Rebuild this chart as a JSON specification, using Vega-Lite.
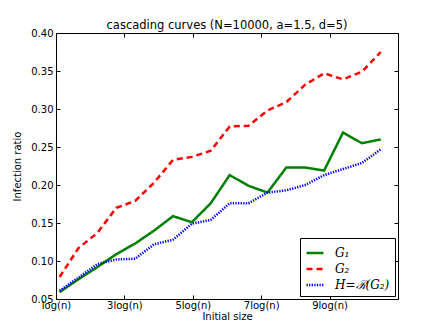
{
  "$schema": "https://vega.github.io/schema/vega-lite/v6.json",
  "width": 342,
  "height": 266,
  "autosize": "none",
  "padding": {"left": 56, "top": 33, "right": 45, "bottom": 33},
  "background": "white",
  "title": {"text": "cascading curves (N=10000, a=1.5, d=5)", "fontSize": 11.5, "fontWeight": "normal", "font": "DejaVu Sans", "offset": -3, "color": "black"},
  "data": {"values": [
    {"series": "G₁", "size": 10, "ratio": 0.059},
    {"series": "G₁", "size": 15, "ratio": 0.076},
    {"series": "G₁", "size": 20, "ratio": 0.092},
    {"series": "G₁", "size": 25, "ratio": 0.109},
    {"series": "G₁", "size": 30, "ratio": 0.123},
    {"series": "G₁", "size": 35, "ratio": 0.140},
    {"series": "G₁", "size": 40, "ratio": 0.159},
    {"series": "G₁", "size": 45, "ratio": 0.151},
    {"series": "G₁", "size": 50, "ratio": 0.176},
    {"series": "G₁", "size": 55, "ratio": 0.213},
    {"series": "G₁", "size": 60, "ratio": 0.199},
    {"series": "G₁", "size": 65, "ratio": 0.190},
    {"series": "G₁", "size": 70, "ratio": 0.223},
    {"series": "G₁", "size": 75, "ratio": 0.223},
    {"series": "G₁", "size": 80, "ratio": 0.219},
    {"series": "G₁", "size": 85, "ratio": 0.269},
    {"series": "G₁", "size": 90, "ratio": 0.255},
    {"series": "G₁", "size": 95, "ratio": 0.260},
    {"series": "G₂", "size": 10, "ratio": 0.079},
    {"series": "G₂", "size": 15, "ratio": 0.117},
    {"series": "G₂", "size": 20, "ratio": 0.137},
    {"series": "G₂", "size": 25, "ratio": 0.170},
    {"series": "G₂", "size": 30, "ratio": 0.179},
    {"series": "G₂", "size": 35, "ratio": 0.203},
    {"series": "G₂", "size": 40, "ratio": 0.233},
    {"series": "G₂", "size": 45, "ratio": 0.237},
    {"series": "G₂", "size": 50, "ratio": 0.245},
    {"series": "G₂", "size": 55, "ratio": 0.277},
    {"series": "G₂", "size": 60, "ratio": 0.278},
    {"series": "G₂", "size": 65, "ratio": 0.298},
    {"series": "G₂", "size": 70, "ratio": 0.309},
    {"series": "G₂", "size": 75, "ratio": 0.332},
    {"series": "G₂", "size": 80, "ratio": 0.347},
    {"series": "G₂", "size": 85, "ratio": 0.339},
    {"series": "G₂", "size": 90, "ratio": 0.349},
    {"series": "G₂", "size": 95, "ratio": 0.375},
    {"series": "H=ℛ(G₂)", "size": 10, "ratio": 0.061},
    {"series": "H=ℛ(G₂)", "size": 15, "ratio": 0.078},
    {"series": "H=ℛ(G₂)", "size": 20, "ratio": 0.096},
    {"series": "H=ℛ(G₂)", "size": 25, "ratio": 0.102},
    {"series": "H=ℛ(G₂)", "size": 30, "ratio": 0.103},
    {"series": "H=ℛ(G₂)", "size": 35, "ratio": 0.122},
    {"series": "H=ℛ(G₂)", "size": 40, "ratio": 0.128},
    {"series": "H=ℛ(G₂)", "size": 45, "ratio": 0.149},
    {"series": "H=ℛ(G₂)", "size": 50, "ratio": 0.154},
    {"series": "H=ℛ(G₂)", "size": 55, "ratio": 0.176},
    {"series": "H=ℛ(G₂)", "size": 60, "ratio": 0.176},
    {"series": "H=ℛ(G₂)", "size": 65, "ratio": 0.190},
    {"series": "H=ℛ(G₂)", "size": 70, "ratio": 0.193},
    {"series": "H=ℛ(G₂)", "size": 75, "ratio": 0.200},
    {"series": "H=ℛ(G₂)", "size": 80, "ratio": 0.213},
    {"series": "H=ℛ(G₂)", "size": 85, "ratio": 0.221},
    {"series": "H=ℛ(G₂)", "size": 90, "ratio": 0.229},
    {"series": "H=ℛ(G₂)", "size": 95, "ratio": 0.247}
  ]},
  "layer": [
    {
      "mark": {"type": "line", "strokeWidth": 2.5},
      "encoding": {
        "x": {"field": "size", "type": "quantitative",
              "scale": {"domain": [9.05, 99.55], "nice": false, "zero": false},
              "axis": {"values": [9.05, 27.15, 45.25, 63.35, 81.45], "title": "Initial size", "labelPadding": 5, "titlePadding": 1, "labelFlush": false,
                       "labelExpr": "datum.value < 10 ? 'log(n)' : format(round(datum.value / 9.05), 'd') + 'log(n)'"}},
        "y": {"field": "ratio", "type": "quantitative",
              "scale": {"domain": [0.05, 0.40], "nice": false, "zero": false},
              "axis": {"values": [0.05, 0.10, 0.15, 0.20, 0.25, 0.30, 0.35, 0.40], "format": ".2f", "title": "Infection ratio", "labelPadding": 7, "titlePadding": 8, "labelFlush": false}},
        "color": {"field": "series", "type": "nominal",
                  "scale": {"domain": ["G₁", "G₂", "H=ℛ(G₂)"], "range": ["#008000", "#ff0000", "#0000ff"]},
                  "legend": {"title": null}},
        "strokeDash": {"field": "series", "type": "nominal",
                       "scale": {"domain": ["G₁", "G₂", "H=ℛ(G₂)"], "range": [[1, 0], [6, 4], [1.3, 1.3]]},
                       "legend": {"title": null}}
      }
    },
    {
      "mark": {"type": "line", "opacity": 0},
      "encoding": {
        "x": {"field": "size", "type": "quantitative",
              "scale": {"domain": [9.05, 99.55], "nice": false, "zero": false},
              "axis": {"values": [9.05, 27.15, 45.25, 63.35, 81.45], "labels": false, "title": null}},
        "y": {"field": "ratio", "type": "quantitative",
              "scale": {"domain": [0.05, 0.40], "nice": false, "zero": false},
              "axis": {"values": [0.05, 0.10, 0.15, 0.20, 0.25, 0.30, 0.35, 0.40], "labels": false, "title": null}}
      }
    }
  ],
  "resolve": {"axis": {"x": "independent", "y": "independent"}},
  "config": {
    "font": "DejaVu Sans",
    "view": {"stroke": "black", "strokeWidth": 1},
    "axis": {
      "grid": false,
      "domain": false,
      "tickColor": "black",
      "tickSize": -4,
      "labelColor": "black",
      "labelFontSize": 10,
      "labelFont": "DejaVu Sans",
      "titleFont": "DejaVu Sans",
      "titleFontSize": 10,
      "titleFontWeight": "normal",
      "titleColor": "black"
    },
    "legend": {
      "orient": "none",
      "legendX": 244,
      "legendY": 205,
      "fillColor": "white",
      "strokeColor": "black",
      "padding": 5,
      "symbolType": "stroke",
      "symbolSize": 289,
      "symbolStrokeWidth": 2.5,
      "labelFont": "DejaVu Serif",
      "labelFontStyle": "italic",
      "labelFontSize": 12,
      "labelColor": "black",
      "labelOffset": 10,
      "rowPadding": -2
    }
  }
}
